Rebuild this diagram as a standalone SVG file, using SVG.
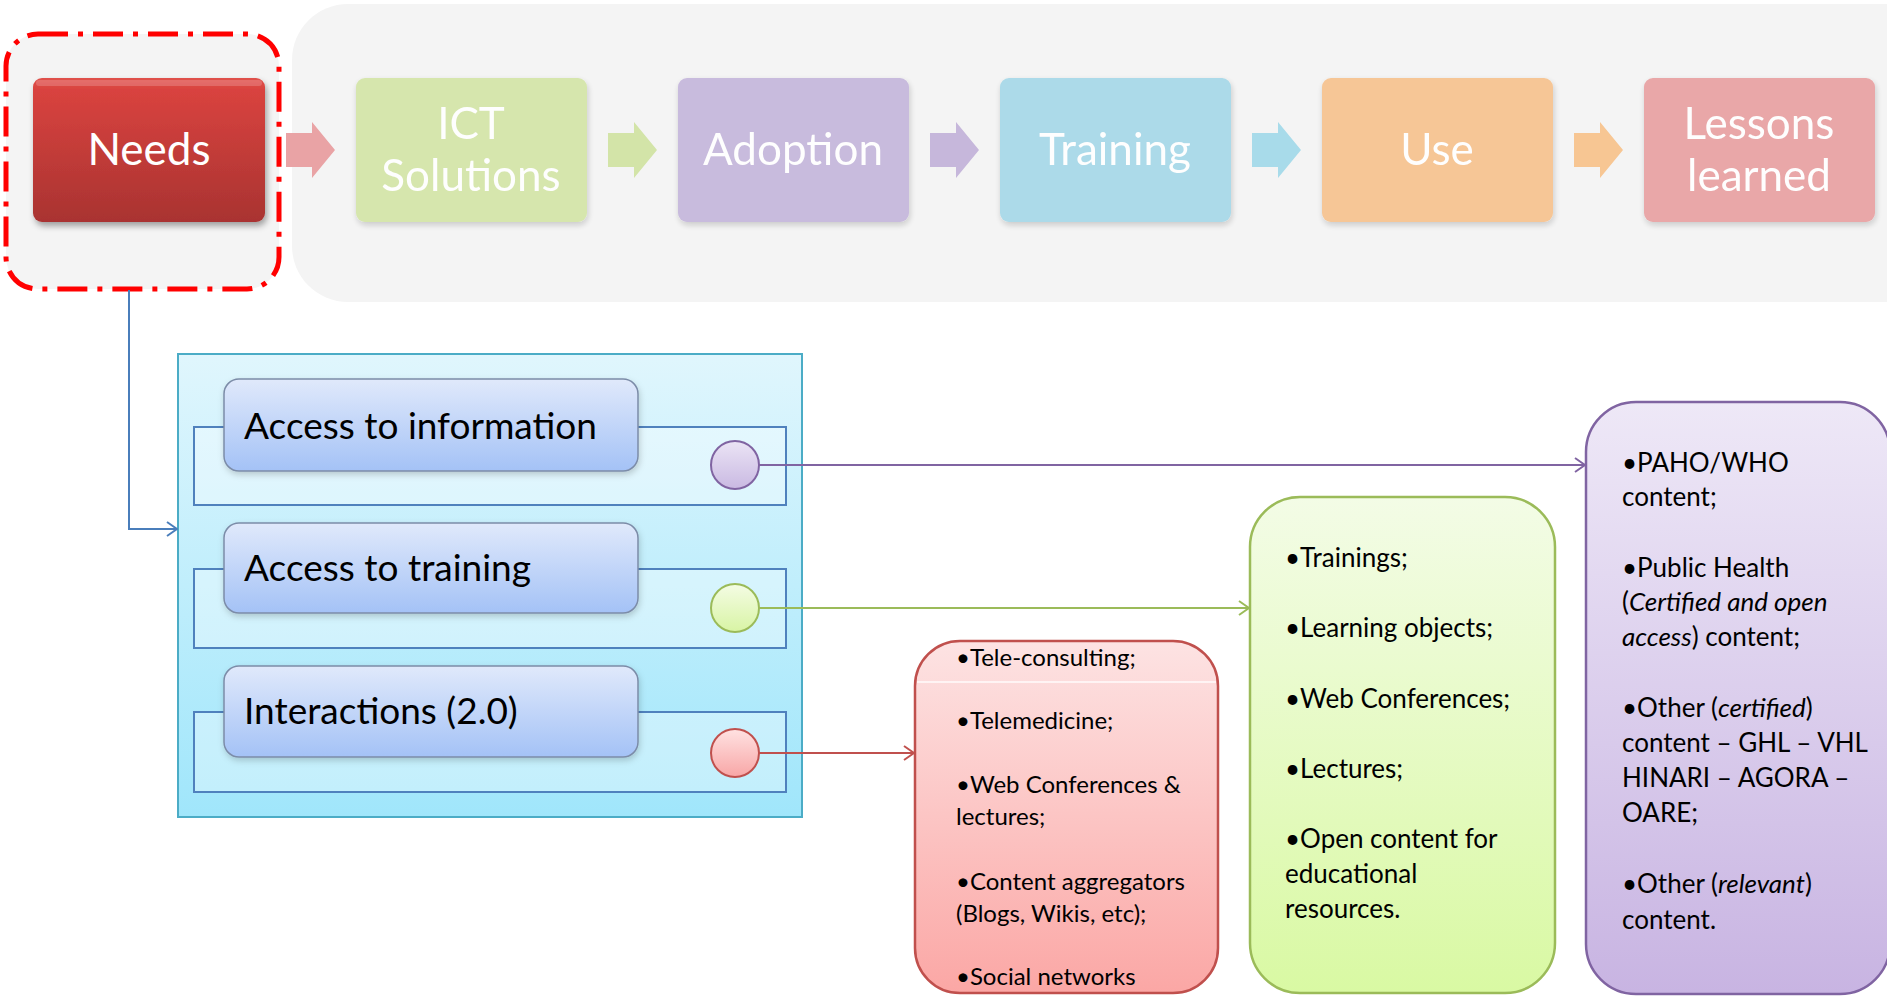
<svg xmlns="http://www.w3.org/2000/svg" width="1887" height="997" viewBox="0 0 1887 997">
<defs>
<style>
.step{font-family:Lato,"Liberation Sans",sans-serif;font-size:44px;fill:#ffffff;text-anchor:middle}
.lab{font-family:Lato,"Liberation Sans",sans-serif;font-size:37px;fill:#000}
.bl{font-family:Lato,"Liberation Sans",sans-serif;font-size:26px;fill:#000}
.blr{font-family:Lato,"Liberation Sans",sans-serif;font-size:24px;fill:#000}
.bracket{fill:#ffffff;fill-opacity:0.35;stroke:#4f81bd;stroke-width:2}
.lbox{fill:url(#gLab);stroke:#7c8ca8;stroke-width:1.5}
.arr{fill:none;stroke-width:2}
</style>
<filter id="sh" x="-10%" y="-10%" width="130%" height="140%">
<feDropShadow dx="2" dy="4" stdDeviation="3" flood-color="#000" flood-opacity="0.35"/>
</filter>
<filter id="shl" x="-10%" y="-10%" width="130%" height="140%">
<feDropShadow dx="1" dy="3" stdDeviation="3" flood-color="#000" flood-opacity="0.18"/>
</filter>
<linearGradient id="gNeeds" x1="0" y1="0" x2="0" y2="1">
<stop offset="0" stop-color="#e0514c"/><stop offset="0.08" stop-color="#d9433f"/><stop offset="1" stop-color="#a93331"/>
</linearGradient>
<linearGradient id="gPanel" x1="0" y1="0" x2="0" y2="1">
<stop offset="0" stop-color="#e0f6fd"/><stop offset="1" stop-color="#a0e6fb"/>
</linearGradient>
<linearGradient id="gLab" x1="0" y1="0" x2="0" y2="1">
<stop offset="0" stop-color="#e0e9fb"/><stop offset="1" stop-color="#a4c2f6"/>
</linearGradient>
<linearGradient id="gCP" x1="0" y1="0" x2="0" y2="1"><stop offset="0" stop-color="#ebe4f5"/><stop offset="1" stop-color="#c9b9e2"/></linearGradient>
<linearGradient id="gCG" x1="0" y1="0" x2="0" y2="1"><stop offset="0" stop-color="#f4fce4"/><stop offset="1" stop-color="#d8f4a4"/></linearGradient>
<linearGradient id="gCR" x1="0" y1="0" x2="0" y2="1"><stop offset="0" stop-color="#ffe2e2"/><stop offset="1" stop-color="#f8a6a6"/></linearGradient>
<linearGradient id="gBR" x1="0" y1="0" x2="0" y2="1"><stop offset="0" stop-color="#fde3e3"/><stop offset="1" stop-color="#fba7a5"/></linearGradient>
<linearGradient id="gBG" x1="0" y1="0" x2="0" y2="1"><stop offset="0" stop-color="#f3fce6"/><stop offset="1" stop-color="#d9f9a3"/></linearGradient>
<linearGradient id="gBP" x1="0" y1="0" x2="0" y2="1"><stop offset="0" stop-color="#eee8f7"/><stop offset="1" stop-color="#c8b4e2"/></linearGradient>
<marker id="mB" viewBox="0 0 12 16" refX="11" refY="8" markerWidth="12" markerHeight="16" markerUnits="userSpaceOnUse" orient="auto"><path d="M1 1 L11 8 L1 15" fill="none" stroke="#4a7ebb" stroke-width="2"/></marker>
<marker id="mP" viewBox="0 0 12 16" refX="11" refY="8" markerWidth="12" markerHeight="16" markerUnits="userSpaceOnUse" orient="auto"><path d="M1 1 L11 8 L1 15" fill="none" stroke="#8064a2" stroke-width="2"/></marker>
<marker id="mG" viewBox="0 0 12 16" refX="11" refY="8" markerWidth="12" markerHeight="16" markerUnits="userSpaceOnUse" orient="auto"><path d="M1 1 L11 8 L1 15" fill="none" stroke="#9bbb59" stroke-width="2"/></marker>
<marker id="mR" viewBox="0 0 12 16" refX="11" refY="8" markerWidth="12" markerHeight="16" markerUnits="userSpaceOnUse" orient="auto"><path d="M1 1 L11 8 L1 15" fill="none" stroke="#c0504d" stroke-width="2"/></marker>
</defs>
<rect width="1887" height="997" fill="#ffffff"/>

<g id="process-panel">
<rect x="292" y="4" width="1660" height="298" rx="56" fill="#f4f4f4"/>
</g>

<g id="needs-highlight">
<rect x="6" y="34" width="273" height="255" rx="32" fill="#f4f4f4" stroke="#ff0000" stroke-width="5" stroke-dasharray="30 10 5 10"/>
</g>

<g id="step-arrows">
<path d="M286 133 H312 V122 L335 150 L312 178 V167 H286 Z" fill="#e9a3a5"/>
<path d="M608 133 H634 V122 L657 150 L634 178 V167 H608 Z" fill="#d3e4a8"/>
<path d="M930 133 H956 V122 L979 150 L956 178 V167 H930 Z" fill="#c6b7db"/>
<path d="M1252 133 H1278 V122 L1301 150 L1278 178 V167 H1252 Z" fill="#a8dbea"/>
<path d="M1574 133 H1600 V122 L1623 150 L1600 178 V167 H1574 Z" fill="#f7c693"/>
</g>

<g id="needs">
<rect x="33" y="78" width="232" height="144" rx="9" fill="url(#gNeeds)" filter="url(#sh)"/>
<rect x="36" y="80" width="226" height="6" rx="3" fill="#ffffff" fill-opacity="0.18"/>
<text class="step" x="149" y="165">Needs</text>
</g>

<g id="ict-solutions" opacity="0.95">
<rect x="356" y="78" width="231" height="144" rx="9" fill="#d5e6aa" filter="url(#shl)"/>
<text class="step" x="471" y="139">ICT</text>
<text class="step" x="471" y="191">Solutions</text>
</g>

<g id="adoption" opacity="0.95">
<rect x="678" y="78" width="231" height="144" rx="9" fill="#c6b8dc" filter="url(#shl)"/>
<text class="step" x="793" y="165">Adoption</text>
</g>

<g id="training" opacity="0.95">
<rect x="1000" y="78" width="231" height="144" rx="9" fill="#a9d9e9" filter="url(#shl)"/>
<text class="step" x="1115" y="165">Training</text>
</g>

<g id="use" opacity="0.95">
<rect x="1322" y="78" width="231" height="144" rx="9" fill="#f7c492" filter="url(#shl)"/>
<text class="step" x="1437" y="165">Use</text>
</g>

<g id="lessons-learned" opacity="0.95">
<rect x="1644" y="78" width="231" height="144" rx="9" fill="#e9a3a4" filter="url(#shl)"/>
<text class="step" x="1759" y="139">Lessons</text>
<text class="step" x="1759" y="191">learned</text>
</g>

<g id="needs-panel">
<rect x="178" y="354" width="624" height="463" fill="url(#gPanel)" stroke="#4bacc6" stroke-width="2"/>
<rect class="bracket" x="194" y="427" width="592" height="78"/>
<rect class="bracket" x="194" y="569" width="592" height="79"/>
<rect class="bracket" x="194" y="712" width="592" height="80"/>
</g>

<g id="access-information">
<rect class="lbox" x="224" y="379" width="414" height="92" rx="15" filter="url(#shl)"/>
<text class="lab" x="244" y="439">Access to information</text>
<circle cx="735" cy="465" r="24" fill="url(#gCP)" stroke="#8064a2" stroke-width="2"/>
</g>

<g id="access-training">
<rect class="lbox" x="224" y="523" width="414" height="90" rx="15" filter="url(#shl)"/>
<text class="lab" x="244" y="581">Access to training</text>
<circle cx="735" cy="608" r="24" fill="url(#gCG)" stroke="#9bbb59" stroke-width="2"/>
</g>

<g id="interactions">
<rect class="lbox" x="224" y="666" width="414" height="91" rx="15" filter="url(#shl)"/>
<text class="lab" x="244" y="724">Interactions (2.0)</text>
<circle cx="735" cy="753" r="24" fill="url(#gCR)" stroke="#c0504d" stroke-width="2"/>
</g>

<g id="interactions-list">
<rect x="915" y="641" width="303" height="352" rx="45" fill="url(#gBR)" stroke="#c0504d" stroke-width="2.5"/>
<line x1="917" y1="682" x2="1216" y2="682" stroke="#ffffff" stroke-width="1.5" stroke-opacity="0.9"/>
<text class="blr" x="956" y="666">•Tele-consulting;</text>
<text class="blr" x="956" y="729">•Telemedicine;</text>
<text class="blr" x="956" y="793">•Web Conferences &amp;</text>
<text class="blr" x="956" y="825">lectures;</text>
<text class="blr" x="956" y="890">•Content aggregators</text>
<text class="blr" x="956" y="922">(Blogs, Wikis, etc);</text>
<text class="blr" x="956" y="985">•Social networks</text>
</g>

<g id="training-list">
<rect x="1250" y="497" width="305" height="496" rx="50" fill="url(#gBG)" stroke="#9bbb59" stroke-width="2.5"/>
<text class="bl" x="1285" y="567">•Trainings;</text>
<text class="bl" x="1285" y="637">•Learning objects;</text>
<text class="bl" x="1285" y="708">•Web Conferences;</text>
<text class="bl" x="1285" y="778">•Lectures;</text>
<text class="bl" x="1285" y="848">•Open content for</text>
<text class="bl" x="1285" y="883">educational</text>
<text class="bl" x="1285" y="918">resources.</text>
</g>

<g id="information-list">
<rect x="1586" y="402" width="304" height="592" rx="50" fill="url(#gBP)" stroke="#8064a2" stroke-width="2.5"/>
<text class="bl" x="1622" y="472">•PAHO/WHO</text>
<text class="bl" x="1622" y="506">content;</text>
<text class="bl" x="1622" y="577">•Public Health</text>
<text class="bl" x="1622" y="611">(<tspan font-style="italic">Certified and open</tspan></text>
<text class="bl" x="1622" y="646"><tspan font-style="italic">access</tspan>) content;</text>
<text class="bl" x="1622" y="717">•Other (<tspan font-style="italic">certified</tspan>)</text>
<text class="bl" x="1622" y="752">content – GHL – VHL</text>
<text class="bl" x="1622" y="787">HINARI – AGORA –</text>
<text class="bl" x="1622" y="822">OARE;</text>
<text class="bl" x="1622" y="893">•Other (<tspan font-style="italic">relevant</tspan>)</text>
<text class="bl" x="1622" y="929">content.</text>
</g>

<g id="connectors">
<path class="arr" d="M129 290 V529 H177" stroke="#4a7ebb" marker-end="url(#mB)"/>
<path class="arr" d="M759 465 H1585" stroke="#8064a2" marker-end="url(#mP)"/>
<path class="arr" d="M759 608 H1249" stroke="#9bbb59" marker-end="url(#mG)"/>
<path class="arr" d="M759 753 H914" stroke="#c0504d" marker-end="url(#mR)"/>
</g>
</svg>
